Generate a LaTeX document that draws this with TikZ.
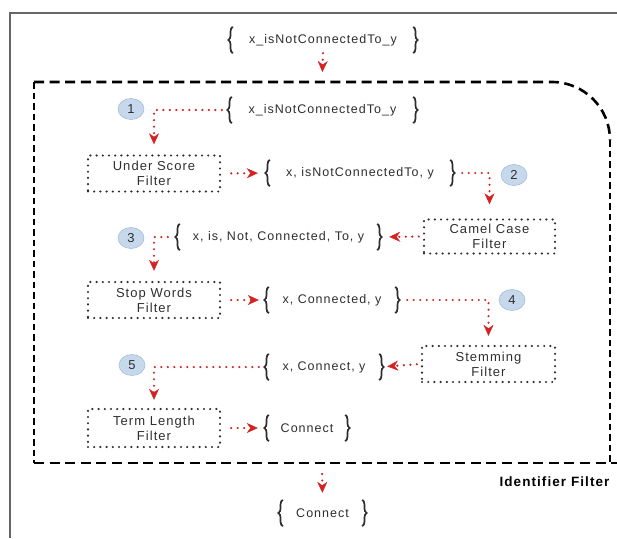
\documentclass[tikz,border=0pt]{standalone}
\usepackage{fontspec}
\setmainfont{Liberation Sans}
\newfontfamily\labelfont[LetterSpace=8]{Liberation Sans}
\usetikzlibrary{arrows.meta,decorations.pathreplacing,shapes.geometric}

\definecolor{flowred}{HTML}{D42222}
\definecolor{inkgray}{HTML}{2E2E2E}
\definecolor{badgefill}{HTML}{C6D9EC}
\definecolor{badgeline}{HTML}{A6BCD4}
\definecolor{framegray}{HTML}{666666}

\begin{document}
\begin{tikzpicture}[x=1pt,y=-1pt,
  setnode/.style={minimum height=26pt, inner sep=0pt, text=inkgray,
    font=\labelfont\fontsize{12.5}{14}\selectfont},
  filterbox/.style={draw=inkgray, line width=2.4pt, line cap=round,
    dash pattern=on 0pt off 6.2pt, minimum width=132pt, minimum height=36pt,
    inner sep=0pt, align=center, text=inkgray,
    font=\labelfont\fontsize{13}{15}\selectfont},
  badge/.style={ellipse, draw=badgeline, fill=badgefill, line width=0.6pt,
    minimum width=26pt, minimum height=21pt, inner sep=0pt, text=inkgray,
    font=\fontsize{13}{13}\selectfont},
  flow/.style={draw=flowred, line width=2.4pt, line cap=round,
    dash pattern=on 0pt off 6.5pt,
    -{Stealth[length=11pt,width=10pt,inset=3.5pt,line width=0.4pt]}},
  setbrace/.style={draw=inkgray, line width=1.7pt, decorate,
    decoration={brace, amplitude=4.5pt}},
  boundary/.style={draw=black, line width=2.6pt},
  hdash/.style={dash pattern=on 10pt off 5.6pt},
  vdash/.style={dash pattern=on 6.5pt off 4pt}]

\useasboundingbox (0,0) rectangle (617,538);

% page frame
\draw[framegray, line width=1.5pt] (10,538) -- (10,13) -- (617,13);

% identifier filter container
\draw[boundary, hdash] (34,82) -- (552,82) .. controls (584,82) and (610,108) .. (610,140);
\draw[boundary, vdash] (610,140) -- (610,463);
\draw[boundary, vdash] (34,82) -- (34,463);
\draw[boundary, hdash] (34,463) -- (617,463);
\coordinate (inTop) at (322,82);
\coordinate (outBot) at (322,463);
\node[anchor=east, text=black, font=\labelfont\bfseries\fontsize{13.5}{15}\selectfont]
  (caption) at (613,482) {Identifier Filter};

% token sets
\node[setnode, minimum width=180pt] (s0) at (323,40)   {x\_isNotConnectedTo\_y};
\node[setnode, minimum width=181pt] (s1) at (322.5,110) {x\_isNotConnectedTo\_y};
\node[setnode, minimum width=180pt] (s2) at (360,173)  {x, isNotConnectedTo, y};
\node[setnode, minimum width=197pt] (s3) at (278.5,237) {x, is, Not, Connected, To, y};
\node[setnode, minimum width=126pt] (s4) at (332,300)  {x, Connected, y};
\node[setnode, minimum width=110pt] (s5) at (324,367)  {x, Connect, y};
\node[setnode, minimum width=76pt]  (s6) at (307,428)  {Connect};
\node[setnode, minimum width=79pt]  (s7) at (322.5,513) {Connect};
\foreach \s in {s0,s1,s2,s3,s4,s5,s6,s7}{
  \draw[setbrace] (\s.south west) -- (\s.north west);
  \draw[setbrace] (\s.north east) -- (\s.south east);
}

% filters
\node[filterbox] (us)    at (154,173.5)  {Under Score\\Filter};
\node[filterbox, minimum width=131pt, minimum height=34pt] (camel) at (489.5,236.5) {Camel Case\\Filter};
\node[filterbox] (stop)  at (154,300)    {Stop Words\\Filter};
\node[filterbox, minimum width=133pt] (stem) at (488.5,364) {Stemming\\Filter};
\node[filterbox, minimum height=38pt] (term) at (154,428) {Term Length\\Filter};

% step numbers
\node[badge] (b1) at (131,109) {1};
\node[badge] (b2) at (514,175) {2};
\node[badge] (b3) at (131,238) {3};
\node[badge] (b4) at (512,300) {4};
\node[badge] (b5) at (132,365) {5};

% flow
\draw[flow, shorten >=10pt] (s0.south) -- (inTop);
\draw[flow, shorten <=10pt, shorten >=10pt] (s1.west) -| (us.north);
\draw[flow, shorten <=10pt, shorten >=12pt] (us.east) -- (s2.west);
\draw[flow, shorten <=12pt, shorten >=14pt] (s2.east) -| (camel.north);
\draw[flow, shorten <=4pt, shorten >=12pt] (camel.west) -- (s3.east);
\draw[flow, shorten <=12pt, shorten >=10pt] (s3.west) -| (stop.north);
\draw[flow, shorten <=10pt, shorten >=10pt] (stop.east) -- (s4.west);
\draw[flow, shorten <=12pt, shorten >=9pt] (s4.east) -| (stem.north);
\draw[flow, shorten <=4pt, shorten >=8pt] (stem.west) -- (s5.east);
\draw[flow, shorten <=10pt, shorten >=8pt] (s5.west) -| (term.north);
\draw[flow, shorten <=10pt, shorten >=11pt] (term.east) -- (s6.west);
\draw[flow, shorten <=11pt, shorten >=7pt] (outBot) -- (s7.north);
\end{tikzpicture}
\end{document}
